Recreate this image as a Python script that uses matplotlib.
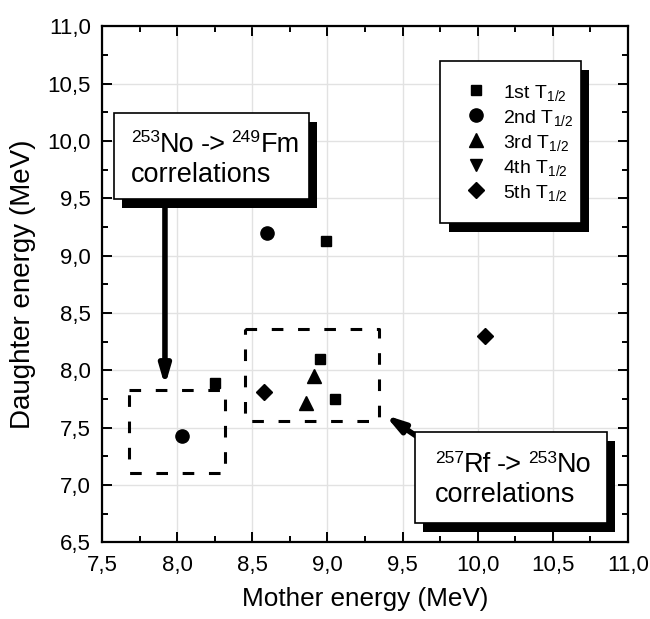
import matplotlib
matplotlib.use("Agg")
import matplotlib.pyplot as plt
from matplotlib.patches import Rectangle
from matplotlib.ticker import MultipleLocator, FuncFormatter
from matplotlib.transforms import IdentityTransform

plt.rcParams['font.family'] = ['Liberation Sans', 'DejaVu Sans']
plt.rcParams['mathtext.fontset'] = 'custom'
plt.rcParams['mathtext.rm'] = 'Liberation Sans'
plt.rcParams['mathtext.it'] = 'Liberation Sans:italic'

# data (mother energy, daughter energy) in MeV
x_1st = [8.25, 8.99, 8.95, 9.05]
y_1st = [7.89, 9.13, 8.10, 7.75]
x_2nd = [8.03, 8.60]
y_2nd = [7.43, 9.20]
x_3rd = [8.91, 8.86]
y_3rd = [7.95, 7.72]
x_4th = []
y_4th = []
x_5th = [8.58, 10.05]
y_5th = [7.81, 8.30]

labels = ['1st T${}_{1/2}$', '2nd T${}_{1/2}$', '3rd T${}_{1/2}$',
          '4th T${}_{1/2}$', '5th T${}_{1/2}$']

# dashed regions (x0, x1, y0, y1)
box_no = (7.68, 8.32, 7.11, 7.83)
box_rf = (8.45, 9.34, 7.56, 8.36)

fig = plt.figure(figsize=(6.5, 6.19), dpi=100)
ax = fig.add_axes([0.1569, 0.1236, 0.8092, 0.8336])

ax.plot(x_1st, y_1st, 's', color='k', ms=7.8, label=labels[0], zorder=3)
ax.plot(x_2nd, y_2nd, 'o', color='k', ms=9.5, label=labels[1], zorder=3)
ax.plot(x_3rd, y_3rd, '^', color='k', ms=10, label=labels[2], zorder=3)
ax.plot(x_4th, y_4th, 'v', color='k', ms=8, label=labels[3], zorder=3)
ax.plot(x_5th, y_5th, 'D', color='k', ms=8, label=labels[4], zorder=3)

for b in (box_no, box_rf):
    x0, x1, y0, y1 = b
    ax.plot([x0, x1, x1, x0, x0], [y1, y1, y0, y0, y1], color='k', lw=2.2,
            ls=(0, (3.8, 4.8)), zorder=2)

ax.set_xlim(7.5, 11.0)
ax.set_ylim(6.5, 11.0)
ax.xaxis.set_major_locator(MultipleLocator(0.5))
ax.xaxis.set_minor_locator(MultipleLocator(0.25))
ax.yaxis.set_major_locator(MultipleLocator(0.5))
ax.yaxis.set_minor_locator(MultipleLocator(0.25))
fmt = FuncFormatter(lambda v, p: f"{v:.1f}".replace('.', ','))
ax.xaxis.set_major_formatter(fmt)
ax.yaxis.set_major_formatter(fmt)
ax.tick_params(which='both', direction='in', top=True, right=True, width=1.4)
ax.tick_params(which='major', length=7.5, labelsize=16)
ax.tick_params(axis='x', which='major', pad=9)
ax.tick_params(axis='y', which='major', pad=8)
ax.tick_params(which='minor', length=4)
for s in ax.spines.values():
    s.set_linewidth(1.6)
ax.grid(True, which='major', color='#e2e2e2', lw=1, zorder=0)
ax.set_axisbelow(True)

ax.set_xlabel('Mother energy (MeV)', fontsize=18.8, labelpad=8)
ax.set_ylabel('Daughter energy (MeV)', fontsize=20, labelpad=8)

# annotation boxes with a black drop shadow
def shadow_box(x0, y0, x1, y1, dx, dy, z=5):
    ax.add_patch(Rectangle((x0 + dx, y0 - dy), x1 - x0, y1 - y0, transform=ax.transAxes,
                           fc='k', ec='k', lw=0, zorder=z, clip_on=False))
    ax.add_patch(Rectangle((x0, y0), x1 - x0, y1 - y0, transform=ax.transAxes,
                           fc='white', ec='k', lw=1.2, zorder=z + 0.5, clip_on=False))

shadow_box(0.0228, 0.6657, 0.3935, 0.8324, 0.0162, 0.0174)
shadow_box(0.5951, 0.0378, 0.9601, 0.2141, 0.0152, 0.0174)
# legend frame
shadow_box(0.6426, 0.6192, 0.9106, 0.9331, 0.0162, 0.0174, z=6)

leg = ax.legend(loc='upper left', bbox_to_anchor=(0.6833, 0.8937), fontsize=14,
                frameon=False, borderpad=0, labelspacing=0.145, handlelength=1.5,
                handleheight=1.3, handletextpad=0.65, borderaxespad=0)
leg.set_zorder(7)

fig.canvas.draw()
renderer = fig.canvas.get_renderer()

# text with small raised isotope numbers, laid out piece by piece
def rich_text(x, y, pieces):
    xd, yd = ax.transAxes.transform((x, y))
    for s, size, rise, gap in pieces:
        xd += gap
        t = ax.text(xd, yd + rise, s, transform=IdentityTransform(), fontsize=size,
                    va='baseline', ha='left', zorder=7)
        xd += t.get_window_extent(renderer).width

big = 19.5
sup = 12.5
rise = 9.5
rich_text(0.0551, 0.7568, [('253', sup, rise, 0), ('No', big, 0, 0), ('->', big, 0, 6),
                           ('249', sup, rise, 6), ('Fm', big, 0, 0)])
rich_text(0.0551, 0.6986, [('correlations', big, 0, 0)])
rich_text(0.6331, 0.1366, [('257', sup, rise, 0), ('Rf', big, 0, 0), ('->', big, 0, 6),
                           ('253', sup, rise, 6), ('No', big, 0, 0)])
rich_text(0.6331, 0.0785, [('correlations', big, 0, 0)])

arrow = dict(arrowstyle='-|>,head_length=1.1,head_width=0.32', color='k', lw=4,
             mutation_scale=10, shrinkA=0, shrinkB=0)
ax.annotate('', xy=(7.919, 7.864), xytext=(7.919, 9.42), arrowprops=arrow, zorder=4)
ax.annotate('', xy=(9.383, 7.612), xytext=(9.59, 7.43), arrowprops=arrow, zorder=4)

fig.savefig('out.png', dpi=100)
